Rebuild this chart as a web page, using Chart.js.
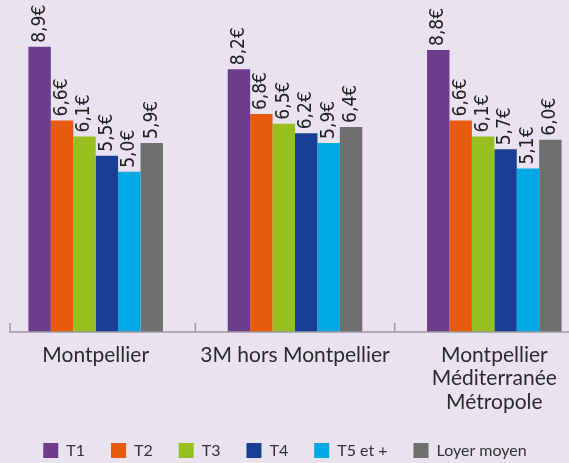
<!DOCTYPE html>
<html>
<head>
<meta charset="utf-8">
<script src="https://cdn.jsdelivr.net/npm/chart.js@4"></script>
<style>
  html, body { margin: 0; padding: 0; background: #e8e2f1; overflow: hidden; }
  #wrap { position: absolute; left: -4px; top: 0; width: 598px; height: 463px; }
</style>
</head>
<body>
<div id="wrap"><canvas id="loyerChart"></canvas></div>
<script>
const categories = [["Montpellier"], ["3M hors Montpellier"], ["Montpellier", "Méditerranée", "Métropole"]];
const seriesNames = ["T1", "T2", "T3", "T4", "T5 et +", "Loyer moyen"];
const t1 = [8.9, 8.2, 8.8];
const t2 = [6.6, 6.8, 6.6];
const t3 = [6.1, 6.5, 6.1];
const t4 = [5.5, 6.2, 5.7];
const t5 = [5.0, 5.9, 5.1];
const loyerMoyen = [5.9, 6.4, 6.0];
const colors = ["#6e3c8c", "#e95b0c", "#97bf20", "#183f94", "#00a9e4", "#6f6f6e"];

const series = [t1, t2, t3, t4, t5, loyerMoyen];

// rotated value labels above each bar
const valueLabels = {
  id: "valueLabels",
  afterDatasetsDraw(chart) {
    const ctx = chart.ctx;
    ctx.save();
    ctx.fillStyle = "#222";
    ctx.font = '19px "Liberation Sans Narrow", "DejaVu Sans Condensed", "DejaVu Sans", sans-serif';
    ctx.textAlign = "left";
    ctx.textBaseline = "middle";
    chart.data.datasets.forEach((ds, i) => {
      chart.getDatasetMeta(i).data.forEach((bar, j) => {
        const txt = ds.data[j].toFixed(1).replace(".", ",") + "€";
        ctx.save();
        ctx.translate(bar.x, bar.y - 4);
        ctx.rotate(-Math.PI / 2);
        ctx.fillText(txt, 0, 0);
        ctx.restore();
      });
    });
    ctx.restore();
  }
};

// baseline with small upward ticks between groups
const axisLine = {
  id: "axisLine",
  afterDatasetsDraw(chart) {
    const ctx = chart.ctx;
    const x = chart.scales.x;
    const y0 = chart.scales.y.getPixelForValue(0);
    const step = (x.right - x.left) / categories.length;
    ctx.save();
    ctx.strokeStyle = "#9a9a9a";
    ctx.lineWidth = 1.5;
    ctx.beginPath();
    const start = x.left + 14;
    ctx.moveTo(start, y0 - 9);
    ctx.lineTo(start, y0);
    ctx.lineTo(chart.width, y0);
    for (let i = 1; i < categories.length; i++) {
      const bx = x.left + step * i;
      ctx.moveTo(bx, y0);
      ctx.lineTo(bx, y0 - 9);
    }
    ctx.stroke();
    ctx.restore();
  }
};

// keep the legend short so the axis labels get the room, then put it in place
const legendFix = {
  id: "legendFix",
  beforeLayout(chart) {
    const l = chart.legend;
    if (l && !l._short) {
      const fit = l.fit;
      l.fit = function () { fit.call(this); this.height = 30; };
      l._short = true;
    }
  },
  afterLayout(chart) {
    const l = chart.legend;
    if (!l) return;
    l.left -= 10; l.right -= 10;
    l.top = 416.5; l.bottom = chart.height;
  }
};

new Chart(document.getElementById("loyerChart"), {
  type: "bar",
  data: {
    labels: categories,
    datasets: series.map((d, i) => ({
      label: seriesNames[i],
      data: d,
      backgroundColor: colors[i],
      borderWidth: 0,
      categoryPercentage: 0.675,
      barPercentage: 1
    }))
  },
  options: {
    responsive: true,
    maintainAspectRatio: false,
    animation: false,
    layout: { padding: { top: 11.5, left: 0, right: 0, bottom: 0 } },
    scales: {
      x: {
        grid: { display: false, drawTicks: false },
        border: { display: false },
        ticks: {
          color: "#2b2b2b",
          padding: 12,
          font: { family: "Lato", size: 21, lineHeight: 1.1 }
        },
        afterFit: (s) => { s.height = 101; }
      },
      y: {
        display: false,
        min: 0,
        max: 10
      }
    },
    plugins: {
      legend: {
        position: "bottom",
        labels: {
          boxWidth: 15,
          boxHeight: 15,
          padding: 26,
          color: "#333",
          font: { family: "Lato", size: 16 }
        }
      },
      tooltip: { enabled: false }
    }
  },
  plugins: [valueLabels, axisLine, legendFix]
});
</script>
</body>
</html>
